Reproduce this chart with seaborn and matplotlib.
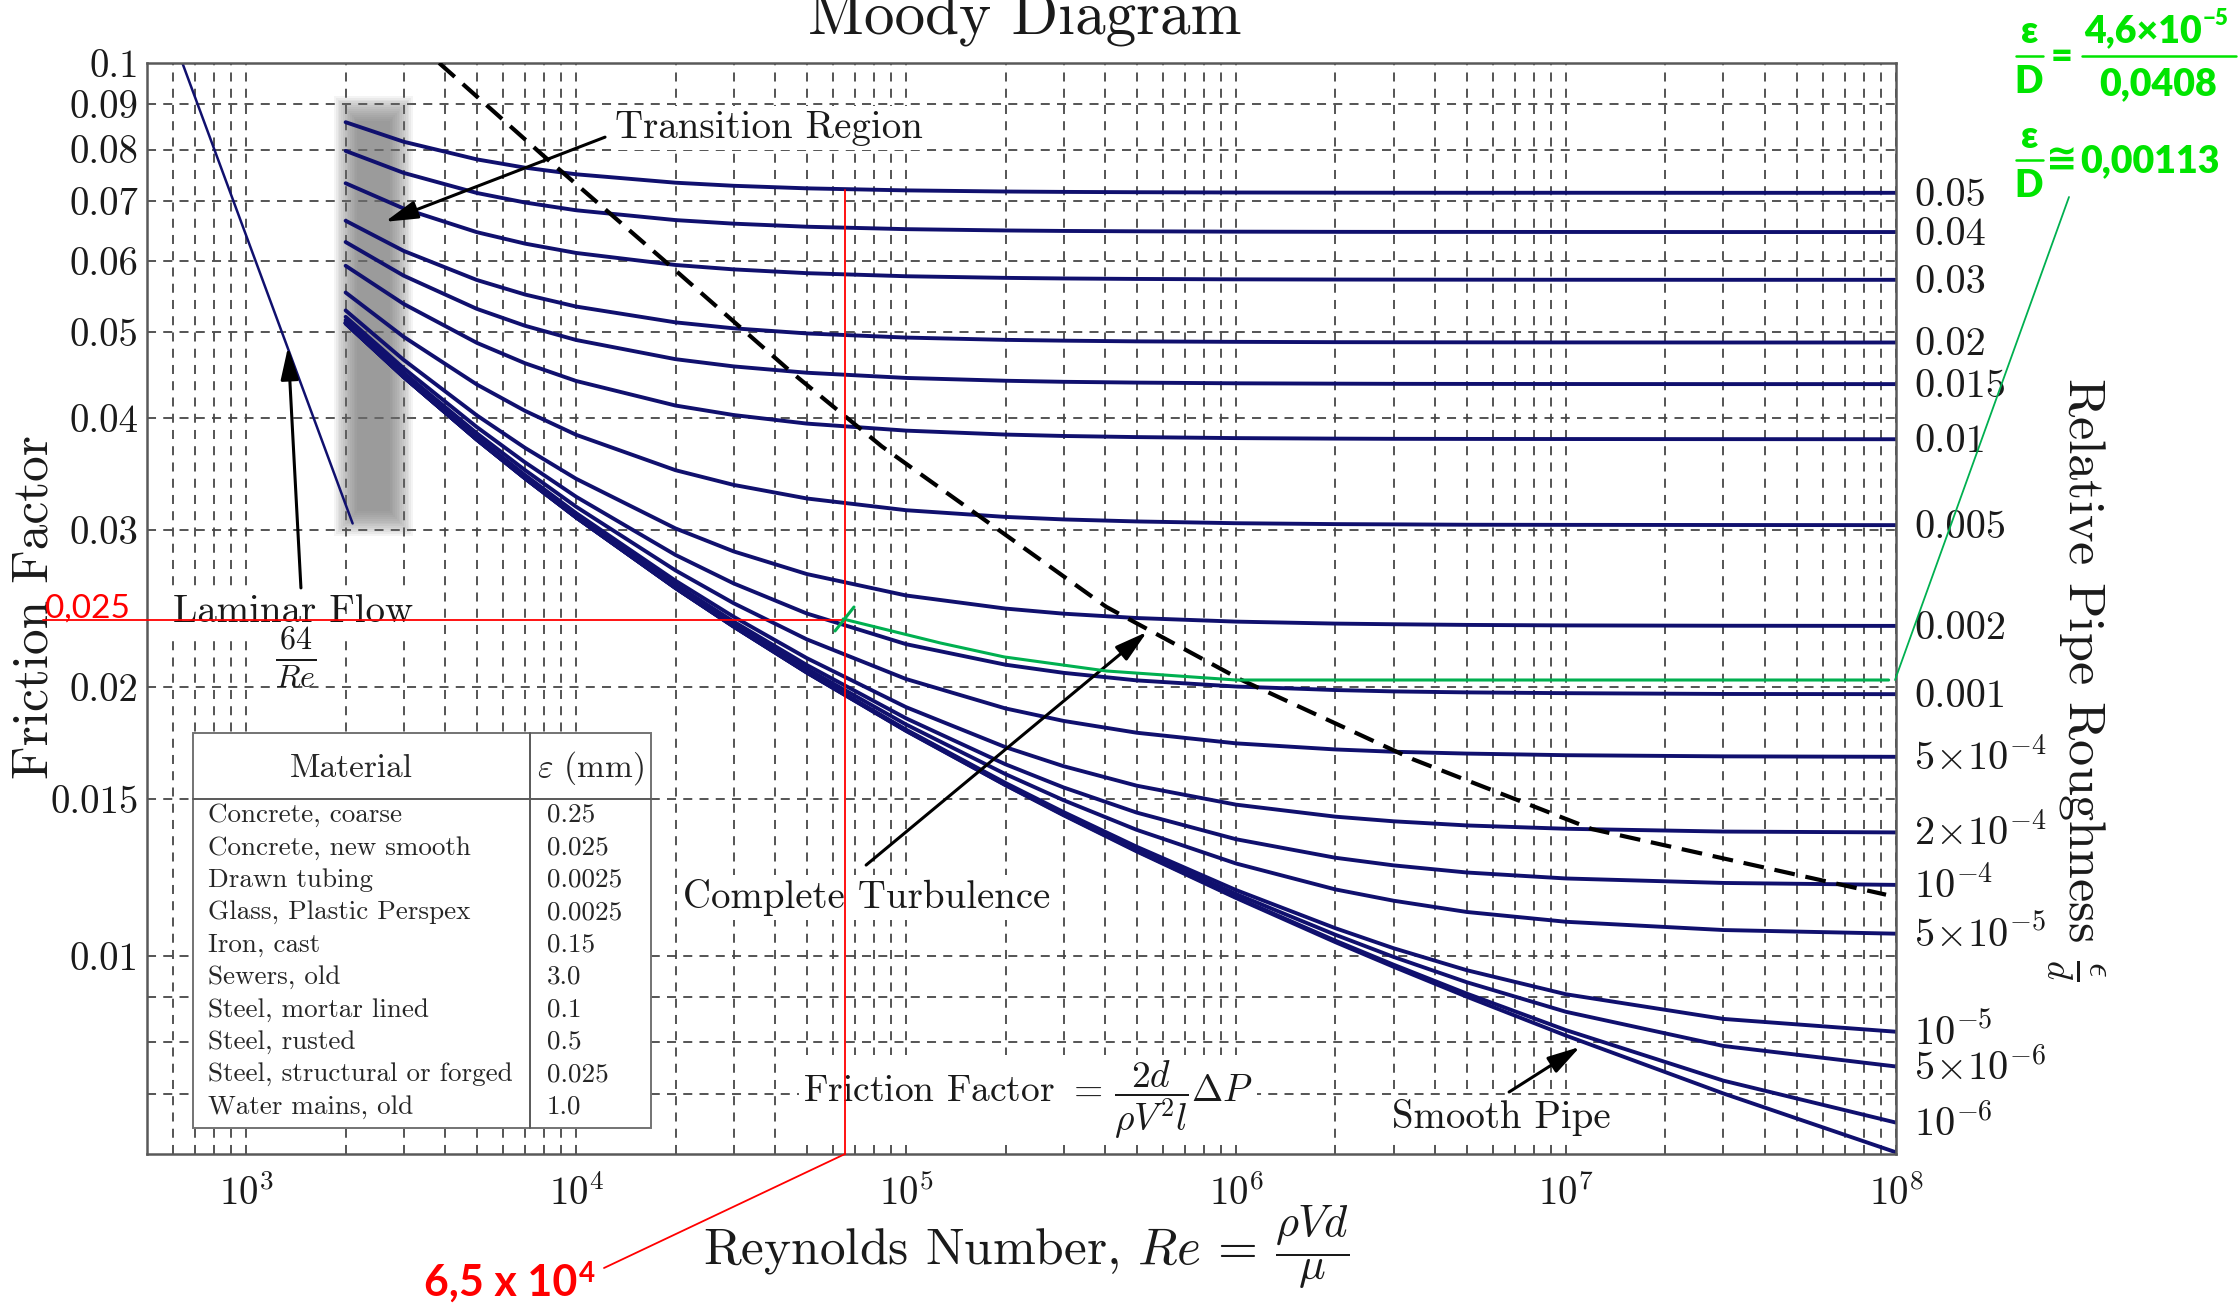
import numpy as np
import pandas as pd
import matplotlib.pyplot as plt
import seaborn as sns
from matplotlib.lines import Line2D
from matplotlib.patches import Rectangle
from matplotlib.ticker import FixedLocator, NullFormatter, LogLocator

sns.set_style("white")
plt.rcParams["font.family"] = ["cmr10", "DejaVu Serif"]
plt.rcParams["mathtext.fontset"] = "cm"
plt.rcParams["axes.formatter.use_mathtext"] = True
plt.rcParams["axes.unicode_minus"] = False

W, H = 2239, 1303
NAVY = "#10106e"
GREEN_TXT = "#00e400"
GREEN_LN = "#00b050"
SANS = ["Lato", "DejaVu Sans"]

re_pts = [2e3, 3e3, 5e3, 7e3, 1e4, 2e4, 3e4, 5e4, 1e5, 2e5, 3e5, 5e5, 1e6, 2e6, 3e6, 5e6, 1e7, 3e7, 1e8]

rough_labels = ["0.05", "0.04", "0.03", "0.02", "0.015", "0.01", "0.005", "0.002", "0.001",
                r"$5\!\times\!10^{-4}$", r"$2\!\times\!10^{-4}$", r"$10^{-4}$", r"$5\!\times\!10^{-5}$",
                r"$10^{-5}$", r"$5\!\times\!10^{-6}$", r"$10^{-6}$", ""]

f_r050 = [0.08584, 0.08162, 0.07799, 0.07634, 0.07505, 0.07344, 0.07286, 0.07238, 0.07200, 0.07179, 0.07172, 0.07166, 0.07161, 0.07158, 0.07157, 0.07156, 0.07156, 0.07155, 0.07155]
f_r040 = [0.07972, 0.07532, 0.07152, 0.06978, 0.06840, 0.06669, 0.06608, 0.06556, 0.06515, 0.06493, 0.06485, 0.06479, 0.06473, 0.06470, 0.06469, 0.06469, 0.06468, 0.06467, 0.06467]
f_r030 = [0.07334, 0.06870, 0.06464, 0.06276, 0.06127, 0.05940, 0.05873, 0.05816, 0.05770, 0.05746, 0.05737, 0.05730, 0.05724, 0.05721, 0.05720, 0.05719, 0.05718, 0.05717, 0.05717]
f_r020 = [0.06658, 0.06159, 0.05714, 0.05504, 0.05336, 0.05123, 0.05045, 0.04979, 0.04926, 0.04897, 0.04887, 0.04878, 0.04872, 0.04868, 0.04867, 0.04866, 0.04865, 0.04864, 0.04864]
f_r015 = [0.06302, 0.05778, 0.05304, 0.05078, 0.04895, 0.04659, 0.04573, 0.04499, 0.04439, 0.04407, 0.04395, 0.04386, 0.04378, 0.04374, 0.04372, 0.04371, 0.04370, 0.04369, 0.04369]
f_r010 = [0.05928, 0.05372, 0.04859, 0.04610, 0.04404, 0.04134, 0.04034, 0.03946, 0.03875, 0.03836, 0.03822, 0.03811, 0.03801, 0.03796, 0.03794, 0.03793, 0.03792, 0.03791, 0.03790]
f_r005 = [0.05533, 0.04935, 0.04364, 0.04077, 0.03833, 0.03499, 0.03369, 0.03253, 0.03156, 0.03102, 0.03082, 0.03066, 0.03052, 0.03045, 0.03043, 0.03040, 0.03039, 0.03038, 0.03037]
f_r002 = [0.05283, 0.04650, 0.04030, 0.03706, 0.03422, 0.03011, 0.02838, 0.02677, 0.02533, 0.02449, 0.02417, 0.02390, 0.02368, 0.02356, 0.02352, 0.02348, 0.02345, 0.02343, 0.02342]
f_r001 = [0.05197, 0.04551, 0.03910, 0.03570, 0.03267, 0.02812, 0.02613, 0.02418, 0.02234, 0.02119, 0.02075, 0.02035, 0.02003, 0.01985, 0.01978, 0.01973, 0.01969, 0.01965, 0.01964]
f_r5e4 = [0.05153, 0.04500, 0.03848, 0.03499, 0.03184, 0.02702, 0.02483, 0.02262, 0.02042, 0.01893, 0.01833, 0.01778, 0.01730, 0.01703, 0.01693, 0.01685, 0.01678, 0.01673, 0.01671]
f_r2e4 = [0.05127, 0.04470, 0.03810, 0.03455, 0.03132, 0.02631, 0.02398, 0.02155, 0.01899, 0.01713, 0.01631, 0.01551, 0.01477, 0.01432, 0.01415, 0.01400, 0.01388, 0.01378, 0.01375]
f_r1e4 = [0.05118, 0.04459, 0.03797, 0.03440, 0.03115, 0.02606, 0.02368, 0.02117, 0.01845, 0.01639, 0.01544, 0.01447, 0.01351, 0.01288, 0.01263, 0.01240, 0.01221, 0.01207, 0.01201]
f_r5e5 = [0.05114, 0.04454, 0.03791, 0.03433, 0.03106, 0.02594, 0.02353, 0.02097, 0.01816, 0.01598, 0.01494, 0.01384, 0.01269, 0.01187, 0.01153, 0.01120, 0.01092, 0.01069, 0.01059]
f_r1e5 = [0.05110, 0.04450, 0.03786, 0.03427, 0.03099, 0.02584, 0.02340, 0.02080, 0.01792, 0.01562, 0.01449, 0.01325, 0.01185, 0.01074, 0.01020, 0.009638, 0.009058, 0.008500, 0.008224]
f_r5e6 = [0.05110, 0.04450, 0.03785, 0.03426, 0.03098, 0.02583, 0.02339, 0.02078, 0.01789, 0.01558, 0.01443, 0.01317, 0.01173, 0.01056, 0.009974, 0.009344, 0.008657, 0.007927, 0.007519]
f_r1e6 = [0.05110, 0.04449, 0.03785, 0.03425, 0.03097, 0.02582, 0.02338, 0.02076, 0.01787, 0.01554, 0.01439, 0.01311, 0.01163, 0.01040, 0.009776, 0.009074, 0.008258, 0.007249, 0.006506]
f_smooth = [0.05109, 0.04449, 0.03785, 0.03425, 0.03097, 0.02581, 0.02337, 0.02076, 0.01786, 0.01553, 0.01437, 0.01309, 0.01161, 0.01036, 0.009724, 0.009001, 0.008142, 0.007013, 0.006026]

curves = [f_r050, f_r040, f_r030, f_r020, f_r015, f_r010, f_r005, f_r002, f_r001,
          f_r5e4, f_r2e4, f_r1e4, f_r5e5, f_r1e5, f_r5e6, f_r1e6, f_smooth]

laminar_re = [640, 2100]
laminar_f = [0.1, 0.0305]

# dashed boundary of complete turbulence
dash_re = [3841, 7870, 18370, 45050, 84400, 404000, 1030000, 3440000, 11970000, 93300000]
dash_f = [0.1, 0.079, 0.0602, 0.045, 0.0372, 0.0246, 0.0204, 0.0166, 0.01387, 0.01171]

# hand drawn green curve for eps/D = 0.00113
green_re = [6.44e4, 1.27e5, 1.98e5, 4.04e5, 1.0e6, 9.5e7]
green_f = [0.02384, 0.02241, 0.02162, 0.02085, 0.02037, 0.02037]

ytick_vals = [0.01, 0.015, 0.02, 0.03, 0.04, 0.05, 0.06, 0.07, 0.08, 0.09, 0.1]
ytick_labels = ["0.01", "0.015", "0.02", "0.03", "0.04", "0.05", "0.06", "0.07", "0.08", "0.09", "0.1"]
xtick_vals = [1e3, 1e4, 1e5, 1e6, 1e7, 1e8]
xtick_labels = [r"$10^{3}$", r"$10^{4}$", r"$10^{5}$", r"$10^{6}$", r"$10^{7}$", r"$10^{8}$"]

materials = ["Concrete, coarse", "Concrete, new smooth", "Drawn tubing", "Glass, Plastic Perspex",
             "Iron, cast", "Sewers, old", "Steel, mortar lined", "Steel, rusted",
             "Steel, structural or forged", "Water mains, old"]
eps_mm = ["0.25", "0.025", "0.0025", "0.0025", "0.15", "3.0", "0.1", "0.5", "0.025", "1.0"]


def ftext(x, y, s, **kw):
    return fig.text(x / W, 1 - y / H, s, **kw)


def fline(xs, ys, **kw):
    fig.add_artist(Line2D([x / W for x in xs], [1 - y / H for y in ys],
                          transform=fig.transFigure, **kw))


fig = plt.figure(figsize=(W / 100, H / 100), dpi=100)
ax = fig.add_axes([147 / W, 1 - 1154 / H, (1896 - 147) / W, (1154 - 63) / H])
ax.set_xscale("log")
ax.set_yscale("log")
ax.set_xlim(500, 1e8)
ax.set_ylim(0.006, 0.1)

# blurred grey transition band
n_layers = 14
for i in range(n_layers):
    m = 1 - 2 * i / (n_layers - 1)
    x0, x1 = 2000 * 10 ** (-0.035 * m), 2950 * 10 ** (0.035 * m)
    y0, y1 = 0.0305 * 10 ** (-0.014 * m), 0.089 * 10 ** (0.014 * m)
    ax.fill_between([x0, x1], y0, y1, color="0.45", alpha=0.08, lw=0, zorder=1)

rows = []
for k, fs in enumerate(curves):
    for r, f in zip(re_pts, fs):
        rows.append({"Re": r, "f": f, "eps": k})
df = pd.DataFrame(rows)
sns.lineplot(data=df, x="Re", y="f", units="eps", estimator=None, sort=False,
             color=NAVY, linewidth=2.8, ax=ax, legend=False, zorder=2)
ax.plot(laminar_re, laminar_f, color=NAVY, lw=1.8, zorder=2)
ax.plot(dash_re, dash_f, color="k", lw=3, linestyle=(0, (5, 2.6)), zorder=3)
ax.plot(green_re, green_f, color=GREEN_LN, lw=2.2, zorder=6)

for lab, fs in zip(rough_labels, curves):
    if lab:
        ax.annotate(lab, xy=(1e8, fs[-1]), xytext=(13, -9.3), textcoords="offset points",
                    ha="left", va="baseline", fontsize=29, color="0.1", annotation_clip=False)

ax.set_yticks(ytick_vals, ytick_labels)
ax.yaxis.set_minor_locator(FixedLocator([0.007, 0.008, 0.009]))
ax.yaxis.set_minor_formatter(NullFormatter())
ax.set_xticks(xtick_vals, xtick_labels)
ax.xaxis.set_minor_locator(LogLocator(base=10, subs=np.arange(2, 10), numticks=40))
ax.xaxis.set_minor_formatter(NullFormatter())
ax.tick_params(axis="both", which="both", length=0, labelcolor="0.1")
ax.tick_params(axis="x", labelsize=28, pad=15)
ax.tick_params(axis="y", labelsize=28, pad=6)
ax.set_axisbelow(True)
ax.grid(True, which="both", linestyle=(0, (5, 4)), color="0.28", linewidth=1.3)
for s in ax.spines.values():
    s.set_color("0.35")
    s.set_linewidth(1.8)
ax.set_xlabel("")
ax.set_ylabel("")

arrow = dict(arrowstyle="-|>,head_length=0.9,head_width=0.25", color="k", lw=2.2,
             mutation_scale=22, shrinkA=0, shrinkB=0)
ax.annotate("", xy=(2633, 0.0664), xytext=(12225, 0.0826), arrowprops=arrow, zorder=5)
ax.annotate("", xy=(1338, 0.0481), xytext=(1464, 0.02583), arrowprops=arrow, zorder=5)
ax.annotate("", xy=(5.37e5, 0.02306), xytext=(7.56e4, 0.01264), arrowprops=arrow, zorder=5)
ax.annotate("", xy=(1.103e7, 0.00791), xytext=(6.72e6, 0.00704), arrowprops=arrow, zorder=5)

# titles and axis labels
ftext(1025, 33, "Moody Diagram", ha="center", va="baseline", fontsize=44, color="0.1")
ftext(48, 607, "Friction Factor", rotation=90, rotation_mode="anchor",
      ha="center", va="baseline", fontsize=37, color="0.1")
ftext(2069, 679, r"Relative Pipe Roughness $\frac{\epsilon}{d}$", rotation=-90,
      rotation_mode="anchor", ha="center", va="baseline", fontsize=37.5, color="0.1")
xlab = ftext(703, 1263, r"Reynolds Number, $Re\,=$", ha="left", va="baseline",
             fontsize=37, color="0.1")

wbox = dict(boxstyle="square,pad=0.1", fc="white", ec="none")
ftext(615, 138, "Transition Region", fontsize=28, va="baseline", bbox=wbox, color="0.1")
ftext(173, 622, "Laminar Flow", fontsize=28, va="baseline", bbox=wbox, color="0.1")
ftext(296, 658, r"$\frac{64}{Re}$", fontsize=33, ha="center", va="center", color="0.1")
ftext(683, 908, "Complete Turbulence", fontsize=28, va="baseline", bbox=wbox, color="0.1")
ftext(1392, 1128, "Smooth Pipe", fontsize=28, va="baseline", bbox=wbox, color="0.1")
ftext(803, 1102, r"Friction Factor $=\,\dfrac{2d}{\rho V^2 l}\Delta P$", fontsize=27,
      va="baseline", bbox=wbox, color="0.1")

# roughness table
fig.add_artist(Rectangle((193 / W, 1 - 1128 / H), (651 - 193) / W, (1128 - 733) / H,
                         transform=fig.transFigure, facecolor="white", edgecolor="0.45",
                         lw=1.4, zorder=5))
fline([193, 651], [799, 799], color="0.35", lw=1.4, zorder=6)
fline([530, 530], [733, 1128], color="0.35", lw=1.4, zorder=6)
ftext(351, 777, "Material", ha="center", va="baseline", fontsize=24, color="0.15", zorder=7)
ftext(590, 777, r"$\varepsilon$ (mm)", ha="center", va="baseline", fontsize=24, color="0.15", zorder=7)
for i, (mat, e) in enumerate(zip(materials, eps_mm)):
    yb = 822 + 32.4 * i
    ftext(208, yb, mat, va="baseline", fontsize=19.5, color="0.15", zorder=7)
    ftext(547, yb, e, va="baseline", fontsize=19.5, color="0.15", zorder=7)

# red reading lines
fline([43, 845], [620, 620], color="red", lw=1.3, zorder=10)
fline([845, 845], [190, 1154], color="red", lw=1.3, zorder=10)
fline([845, 604], [1154, 1268], color="red", lw=1.3, zorder=10)
ftext(45, 618, "0,025", color="red", fontsize=24, family=SANS, va="baseline", zorder=11)
red_main = ftext(424, 1296, "6,5 x 10", color="red", fontsize=31, weight="bold",
                 family=SANS, va="baseline", zorder=11)

# green annotation
fline([835, 854], [631, 607], color=GREEN_LN, lw=2.2, zorder=10)
fline([1895, 2069], [680, 197], color=GREEN_LN, lw=1.3, zorder=10)
gkw = dict(color=GREEN_TXT, fontsize=27, weight="heavy", family=SANS, va="baseline", zorder=11)
ftext(2030, 43, "ε", ha="center", **gkw)
ftext(2029, 93, "D", ha="center", **gkw)
fline([2016, 2043], [56, 56], color=GREEN_TXT, lw=1.8, zorder=11)
ftext(2062, 68, "=", ha="center", **gkw)
g_num = ftext(2084, 42, "4,6×10", **gkw)
fline([2082, 2236], [56, 56], color=GREEN_TXT, lw=1.8, zorder=11)
ftext(2158, 95, "0,0408", ha="center", **gkw)
ftext(2030, 148, "ε", ha="center", **gkw)
fline([2016, 2043], [160, 160], color=GREEN_TXT, lw=1.8, zorder=11)
ftext(2029, 197, "D", ha="center", **gkw)
ftext(2062, 172, "≅", ha="center", **gkw)
ftext(2080, 172, "0,00113", **gkw)

# pieces placed right after their base text
fig.canvas.draw()
rend = fig.canvas.get_renderer()
bb = xlab.get_window_extent(rend)
fig.text((bb.x1 + 19) / W, 1 - 1263 / H, r"$\dfrac{\rho V d}{\mu}$", ha="left",
         va="baseline", fontsize=32, color="0.1")
bb = red_main.get_window_extent(rend)
fig.text((bb.x1 + 2) / W, 1 - 1282 / H, "4", color="red", fontsize=20, weight="bold",
         family=SANS, va="baseline", zorder=11)
bb = g_num.get_window_extent(rend)
fig.text((bb.x1 + 1) / W, 1 - 25 / H, "−5", color=GREEN_TXT, fontsize=16, weight="heavy",
         family=SANS, va="baseline", zorder=11)

fig.savefig("out.png", dpi=100)
